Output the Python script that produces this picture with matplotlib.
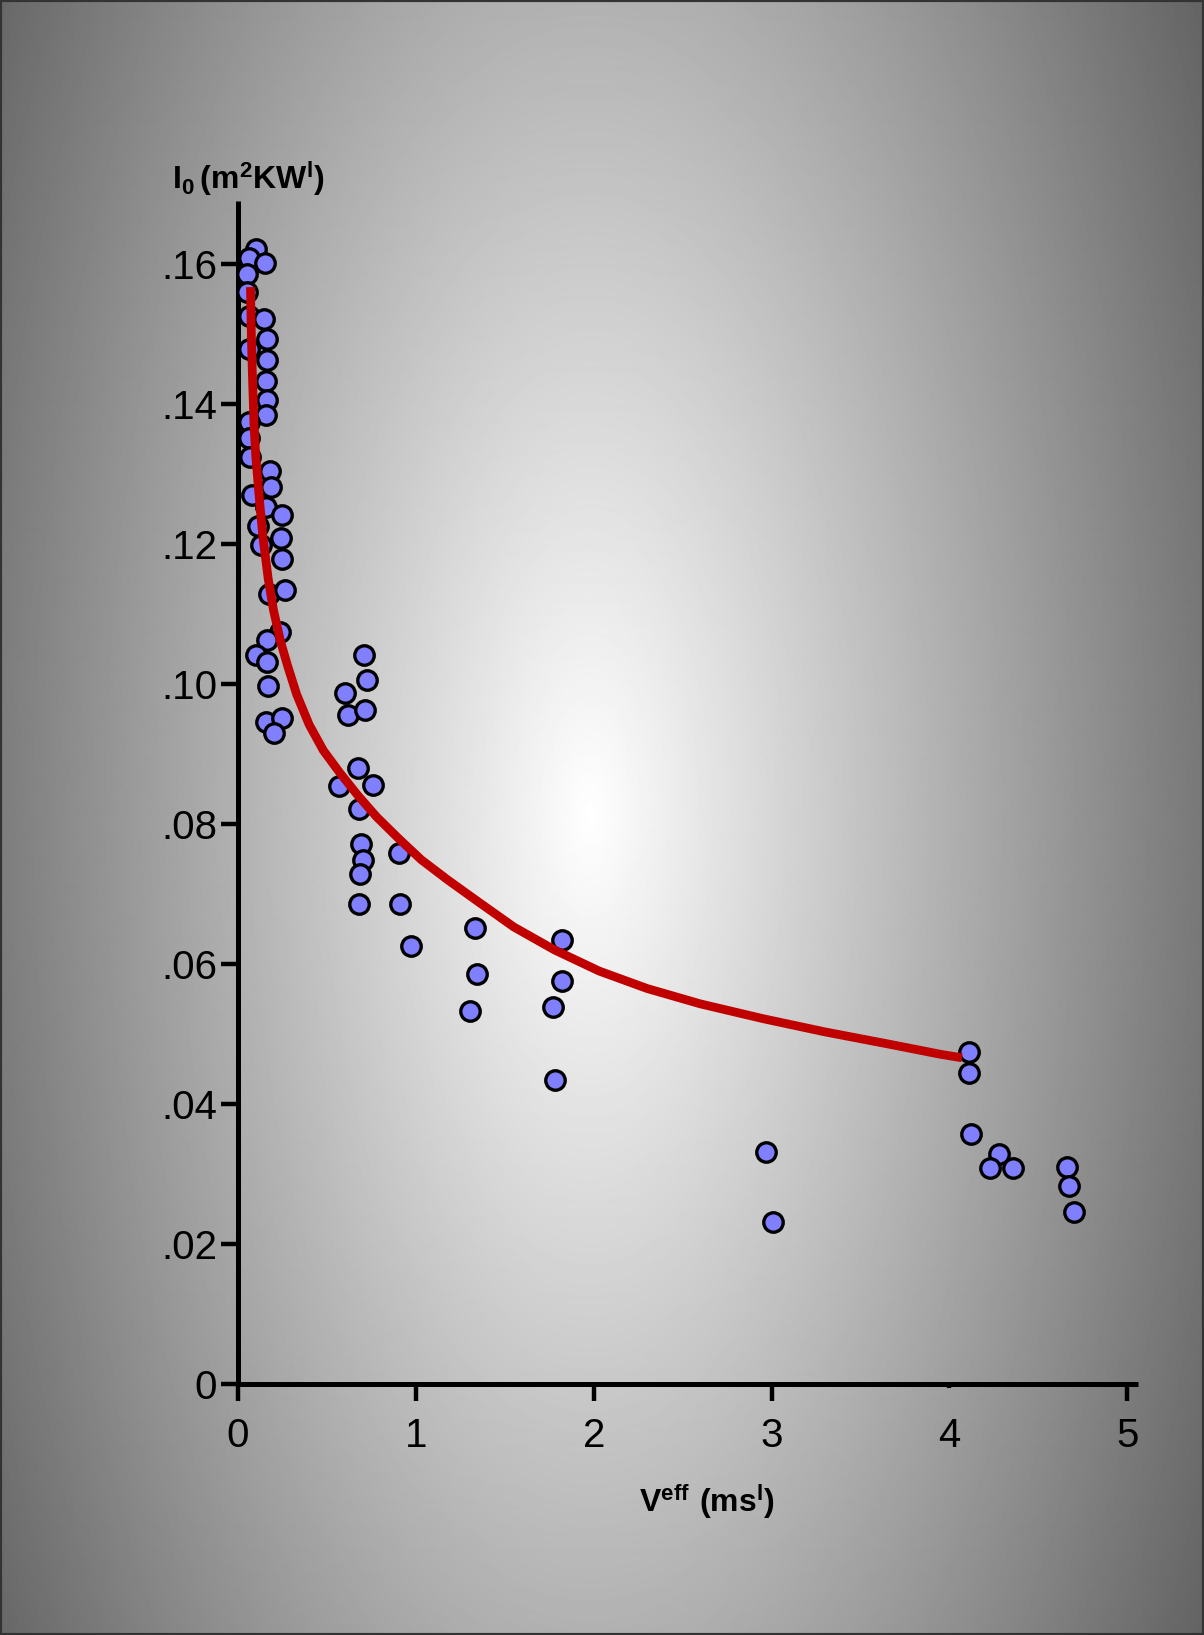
import matplotlib
matplotlib.use('Agg')
import matplotlib.pyplot as plt
from matplotlib import font_manager
from matplotlib.patches import Rectangle
import numpy as np

# condensed bold for the axis titles if we have it
installed = {f.name for f in font_manager.fontManager.ttflist}
title_font = 'Liberation Sans Narrow' if 'Liberation Sans Narrow' in installed else 'Liberation Sans'

plt.rcParams['font.family'] = ['Liberation Sans', 'DejaVu Sans']
plt.rcParams['mathtext.fontset'] = 'custom'
plt.rcParams['mathtext.rm'] = title_font
plt.rcParams['mathtext.bf'] = title_font + ':bold'

# measured points: effective velocity (m/s) vs I0
veff = [0.10, 0.06, 0.15, 0.05, 0.05, 0.06, 0.146, 0.164, 0.06, 0.164,
        0.158, 0.164, 0.158, 0.06, 0.06, 0.07, 0.18, 0.187, 0.08, 0.158,
        0.246, 0.111, 0.129, 0.24, 0.246, 0.175, 0.263, 0.234, 0.164, 0.10,
        0.164, 0.17, 0.158, 0.246, 0.205,
        0.60, 0.708, 0.726, 0.62, 0.714, 0.673, 0.567, 0.76, 0.679, 0.69,
        0.70, 0.685, 0.679, 0.907, 0.913, 0.97,
        1.33, 1.345, 1.305, 1.82, 1.82, 1.77, 1.785,
        2.97, 3.01,
        4.11, 4.11, 4.12, 4.28, 4.23, 4.36, 4.66, 4.67, 4.70]
i0 = [0.1622, 0.1609, 0.1601, 0.1586, 0.1560, 0.1525, 0.1522, 0.1493, 0.1478, 0.1463,
      0.1433, 0.1406, 0.1384, 0.1374, 0.1351, 0.1324, 0.1304, 0.1281, 0.1270, 0.1253,
      0.1241, 0.1225, 0.1198, 0.1208, 0.1179, 0.1128, 0.1134, 0.1074, 0.1063, 0.1042,
      0.1031, 0.0997, 0.0946, 0.0952, 0.0930,
      0.0987, 0.1042, 0.1006, 0.0955, 0.0963, 0.0880, 0.0854, 0.0856, 0.0821, 0.0772,
      0.0749, 0.0729, 0.0685, 0.0759, 0.0685, 0.0626,
      0.0652, 0.0586, 0.0533, 0.0634, 0.0576, 0.0539, 0.0434,
      0.0332, 0.0231,
      0.0475, 0.0445, 0.0357, 0.0329, 0.0308, 0.0308, 0.0310, 0.0283, 0.0246]

# fitted curve
fit_x = [0.07, 0.075, 0.08, 0.09, 0.10, 0.12, 0.14, 0.17, 0.20, 0.24, 0.28,
         0.33, 0.40, 0.48, 0.57, 0.67, 0.78, 0.90, 1.03, 1.18, 1.35, 1.55,
         1.78, 2.03, 2.30, 2.60, 2.95, 3.30, 3.65, 3.95, 4.07]
fit_y = [0.1567, 0.1500, 0.1450, 0.1370, 0.1325, 0.1265, 0.1210, 0.1150, 0.1105,
         0.1060, 0.1025, 0.0985, 0.0942, 0.0905, 0.0874, 0.0842, 0.0810, 0.0780,
         0.0749, 0.0720, 0.0689, 0.0653, 0.0620, 0.0590, 0.0565, 0.0543, 0.0522,
         0.0503, 0.0486, 0.0471, 0.0466]

yticks = [0, 0.02, 0.04, 0.06, 0.08, 0.10, 0.12, 0.14, 0.16]
ytick_labels = ['0', '.02', '.04', '.06', '.08', '.10', '.12', '.14', '.16']
xticks = [0, 1, 2, 3, 4, 5]

W, H = 1204, 1635
fig = plt.figure(figsize=(W / 100, H / 100), dpi=100)

# radial grey background
bg = fig.add_axes([0, 0, 1, 1])
bg.set_axis_off()
yy, xx = np.mgrid[0:H, 0:W]
r = np.sqrt(((xx - 590) / 590.0) ** 2 + ((yy - 813) / 1370.0) ** 2)
shade = np.clip(255 - 130 * r, 0, 255) / 255.0
bg.imshow(shade, cmap='gray', vmin=0, vmax=1, aspect='auto',
          extent=[0, 1, 0, 1], interpolation='bilinear')
bg.set_xlim(0, 1)
bg.set_ylim(0, 1)
bg.add_patch(Rectangle((0, 0), 1, 1, transform=bg.transAxes, fill=False,
                       edgecolor='#333333', linewidth=3))

ax = fig.add_axes([238 / W, 1 - 1384 / H, 900 / W, (1384 - 201) / H])
ax.patch.set_alpha(0)
ax.scatter(veff, i0, s=14 ** 2, color='#8080ff', edgecolor='black',
           linewidth=2.4, zorder=3, clip_on=False)
ax.plot(fit_x, fit_y, color='#c00000', linewidth=6.3, zorder=4,
        solid_capstyle='butt', solid_joinstyle='round')

ax.set_xlim(0, 5.06)
ax.set_ylim(0, 0.169)
for side in ['top', 'right']:
    ax.spines[side].set_visible(False)
for side in ['left', 'bottom']:
    ax.spines[side].set_linewidth(3.6)
    ax.spines[side].set_capstyle('butt')

ax.set_yticks(yticks)
ax.set_yticklabels(ytick_labels)
ax.set_xticks(xticks)
ax.tick_params(axis='y', length=12, width=3.2, pad=3, labelsize=29)
ax.tick_params(axis='x', length=12, width=3.2, pad=12, labelsize=29)
ax.xaxis.get_major_ticks()[4].tick1line.set_markersize(3)

title_size = 27 if title_font == 'Liberation Sans Narrow' else 23
fig.text(248 / W, 1 - 179 / H, r'$\mathbf{I_0\,(m^2KW^l)}$', ha='center',
         va='center', fontsize=title_size)
fig.text(707 / W, 1 - 1501 / H, r'$\mathbf{V^{eff}\ (ms^l)}$', ha='center',
         va='center', fontsize=title_size)

plt.savefig('out.png', dpi=100)
plt.close()
